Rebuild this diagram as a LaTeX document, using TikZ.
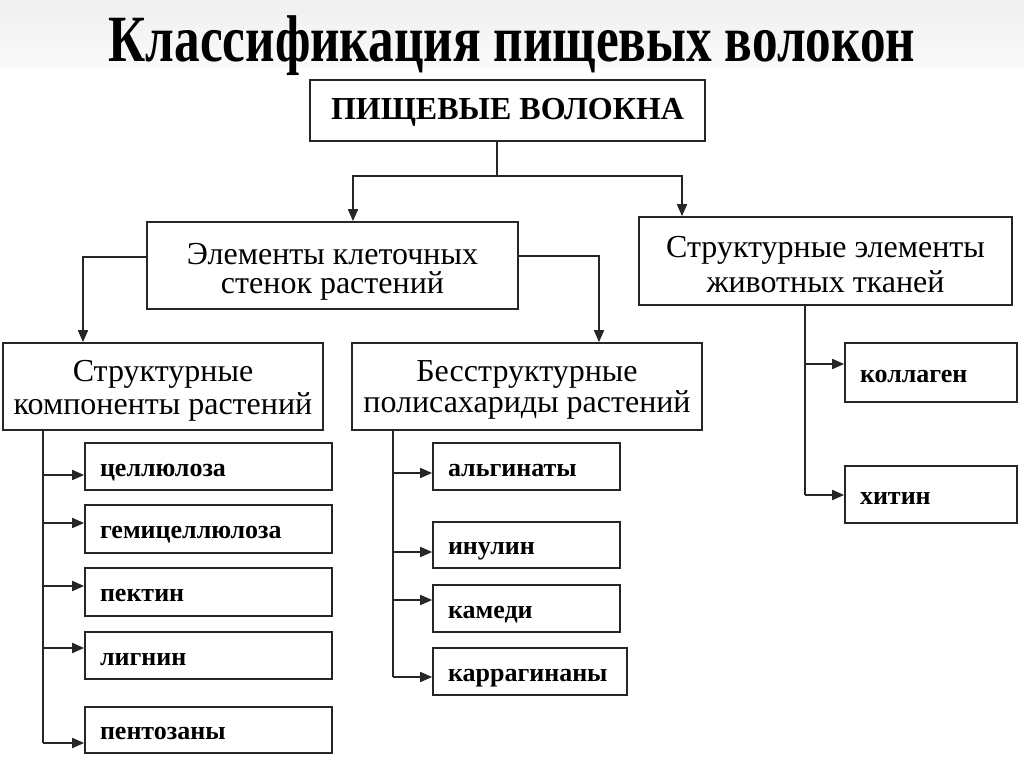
\documentclass[tikz,border=0pt]{standalone}
\usepackage{fontspec}
\setmainfont{Liberation Serif}
\usetikzlibrary{arrows.meta}
\begin{document}
\begin{tikzpicture}[x=1pt,y=-1pt,
  line/.style={draw=black!85, line width=1.7pt},
  arr/.style={line, -{Triangle[length=12pt,width=10pt]}},
  bigbox/.style={draw=black!85, line width=1.7pt, inner sep=0pt},
  lbl/.style={align=center, inner sep=0pt},
  item/.style={draw=black!85, line width=1.7pt, inner ysep=0pt, inner xsep=15pt,
    align=left, text height=19pt, text depth=0pt, font=\fontsize{26}{28}\selectfont\bfseries}]
\useasboundingbox (0,0) rectangle (1024,767);
\fill[white] (0,0) rectangle (1024,767);
\shade[top color=gray!12, bottom color=gray!4] (0,0) rectangle (1024,68);

\node[font=\fontsize{52}{60}\selectfont\bfseries, anchor=base, xscale=0.985, yscale=1.27, transform shape] (title) at (512,62) {Классификация пищевых волокон};

\node[bigbox, minimum width=395pt, minimum height=61pt,
  label={[lbl, yshift=-2pt, font=\fontsize{32}{31}\selectfont\bfseries]center:ПИЩЕВЫЕ ВОЛОКНА}] (root) at (507.5,110.5) {};
\node[bigbox, minimum width=371pt, minimum height=87pt,
  label={[lbl, yshift=-6pt, font=\fontsize{32}{29}\selectfont]center:Элементы клеточных\\стенок растений}] (cell) at (332.5,265.5) {};
\node[bigbox, minimum width=373pt, minimum height=88pt,
  label={[lbl, yshift=-4pt, font=\fontsize{32}{35}\selectfont]center:Структурные элементы\\животных тканей}] (animal) at (825.5,261) {};
\node[bigbox, minimum width=320pt, minimum height=87pt,
  label={[lbl, yshift=-4pt, font=\fontsize{32}{33}\selectfont]center:Структурные\\компоненты растений}] (struct) at (163,386.5) {};
\node[bigbox, minimum width=350pt, minimum height=87pt,
  label={[lbl, yshift=-3pt, font=\fontsize{32}{31}\selectfont]center:Бесструктурные\\полисахариды растений}] (nonstr) at (527,386.5) {};

\node[item, text width=217pt, minimum height=47pt] (cel) at (208.5,466.5) {целлюлоза};
\node[item, text width=217pt, minimum height=48pt] (hemi) at (208.5,529) {гемицеллюлоза};
\node[item, text width=217pt, minimum height=48pt] (pect) at (208.5,592) {пектин};
\node[item, text width=217pt, minimum height=47pt] (lign) at (208.5,655.5) {лигнин};
\node[item, text width=217pt, minimum height=46pt] (pent) at (208.5,730) {пентозаны};

\node[item, text width=157pt, minimum height=47pt] (alg) at (526.5,466.5) {альгинаты};
\node[item, text width=157pt, minimum height=46pt] (inul) at (526.5,545) {инулин};
\node[item, text width=157pt, minimum height=47pt] (kam) at (526.5,608.5) {камеди};
\node[item, text width=164pt, minimum height=47pt] (karr) at (530,671.5) {каррагинаны};

\node[item, text width=142pt, minimum height=59pt] (koll) at (931,372.5) {коллаген};
\node[item, text width=142pt, minimum height=57pt] (chit) at (931,494.5) {хитин};

% top level
\coordinate (j1) at (497,176);
\coordinate (a1) at (353,176);
\coordinate (a2) at (682,176);
\draw[line] (root.south -| j1) -- (j1);
\draw[arr] (j1) -- (a1) -- (a1 |- cell.north);
\draw[arr] (j1) -- (a2) -- (a2 |- animal.north);

% cell walls
\coordinate (c1) at (83,257);
\coordinate (c2) at (599,256);
\draw[arr] (c1 -| cell.west) -- (c1) -- (c1 |- struct.north);
\draw[arr] (c2 -| cell.east) -- (c2) -- (c2 |- nonstr.north);

% structural trunk
\coordinate (s1) at (43,475);
\coordinate (s2) at (43,523);
\coordinate (s3) at (43,586);
\coordinate (s4) at (43,648);
\coordinate (s5) at (43,743);
\draw[line] (s1 |- struct.south) -- (s5);
\foreach \c/\b in {s1/cel,s2/hemi,s3/pect,s4/lign,s5/pent}
  \draw[arr] (\c) -- (\c -| \b.west);

% non-structural trunk
\coordinate (n1) at (393,473);
\coordinate (n2) at (393,552);
\coordinate (n3) at (393,600);
\coordinate (n4) at (393,677);
\draw[line] (n1 |- nonstr.south) -- (n4);
\foreach \c/\b in {n1/alg,n2/inul,n3/kam,n4/karr}
  \draw[arr] (\c) -- (\c -| \b.west);

% animal trunk
\coordinate (r1) at (805,364);
\coordinate (r2) at (805,495);
\draw[line] (r1 |- animal.south) -- (r2);
\foreach \c/\b in {r1/koll,r2/chit}
  \draw[arr] (\c) -- (\c -| \b.west);
\end{tikzpicture}
\end{document}
